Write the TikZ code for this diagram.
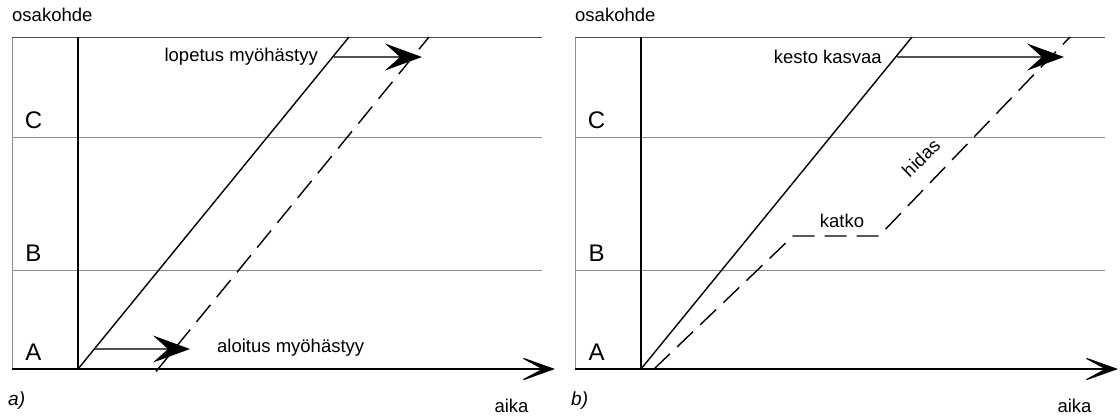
\documentclass[tikz,border=0pt]{standalone}
\usepackage{fontspec}
\setmainfont{Liberation Sans}
\usetikzlibrary{arrows.meta}
\begin{document}
\begin{tikzpicture}[x=1pt,y=-1pt,
  gridline/.style={draw={rgb,255:red,140;green,140;blue,140},line width=0.9pt},
  topline/.style={draw={rgb,255:red,80;green,80;blue,80},line width=1pt},
  axis/.style={draw=black,line width=1.1pt},
  axisarrow/.style={axis,-{Stealth[length=38pt,width=27pt,inset=25pt]}},
  planned/.style={draw=black,line width=1.4pt},
  actual/.style={planned,dash pattern=on 22pt off 10pt},
  delay/.style={draw={rgb,255:red,80;green,80;blue,80},line width=1.3pt,
    -{Stealth[length=37pt,width=27pt,inset=15pt,color=black]}},
  lbl/.style={font=\fontsize{18.5}{22}\selectfont,inner sep=0pt},
  rowlbl/.style={font=\fontsize{24}{28}\selectfont,inner sep=0pt,anchor=base},
  tag/.style={font=\itshape\fontsize{19}{22}\selectfont,inner sep=0pt,anchor=base west},
]
\useasboundingbox (0,0) rectangle (1120,416);
\foreach \p/\dx in {a/0,b/563}{
\begin{scope}[xshift=\dx pt]
  \coordinate (\p-tl) at (12,37);
  \coordinate (\p-tr) at (542,37);
  \coordinate (\p-bl) at (12,369);
  \coordinate (\p-c1) at (12,137);
  \coordinate (\p-c2) at (542,137);
  \coordinate (\p-b1) at (12,270);
  \coordinate (\p-b2) at (542,270);
  \coordinate (\p-O) at (78,369);
  \coordinate (\p-yt) at (78,37);
  \coordinate (\p-xe) at (555,369);
  \coordinate (\p-s) at (349,37);
  \draw[gridline] (\p-tl) -- (\p-bl);
  \draw[gridline] (\p-c1) -- (\p-c2);
  \draw[gridline] (\p-b1) -- (\p-b2);
  \draw[topline] (\p-tl) -- (\p-tr);
  \draw[axis] (\p-O) -- (\p-yt);
  \draw[axisarrow] (\p-bl) -- (\p-xe);
  \draw[planned] (\p-O) -- (\p-s);
  \node[lbl,anchor=base west] (\p-ylab) at (12,21.5) {osakohde};
  \node[lbl,anchor=base] (\p-xlab) at (511.5,412) {aika};
  \node[rowlbl] (\p-C) at (33.5,128) {C};
  \node[rowlbl] (\p-B) at (33.5,261) {B};
  \node[rowlbl] (\p-A) at (33.5,360) {A};
  \node[tag] (\p-tag) at (8,405) {\p)};
\end{scope}
}
% panel a
\coordinate (a-d0) at (156,371.5);
\coordinate (a-d1) at (429,37);
\draw[actual] (a-d0) -- (a-d1);
\coordinate (a-s1) at (94.5,349);
\coordinate (a-e1) at (190,349);
\draw[delay] (a-s1) -- (a-e1);
\node[lbl,anchor=west] (a-start) at (217,348) {aloitus myöhästyy};
\coordinate (a-s2) at (334,57);
\coordinate (a-e2) at (422,57);
\draw[delay] (a-s2) -- (a-e2);
\node[lbl,anchor=east] (a-end) at (318,57) {lopetus myöhästyy};
% panel b
\coordinate (b-d0) at (654,369);
\coordinate (b-d1) at (793,236);
\coordinate (b-d2) at (879,236);
\coordinate (b-d3) at (1070,37);
\draw[actual] (b-d0) -- (b-d1) -- (b-d2) -- (b-d3);
\coordinate (b-s2) at (897,57);
\coordinate (b-e2) at (1064,57);
\draw[delay] (b-s2) -- (b-e2);
\node[lbl,anchor=east] (b-end) at (882,57) {kesto kasvaa};
\node[lbl,anchor=base] (b-katko) at (842,227) {katko};
\node[lbl,rotate=44] (b-hidas) at (921,158) {hidas};
\end{tikzpicture}
\end{document}
